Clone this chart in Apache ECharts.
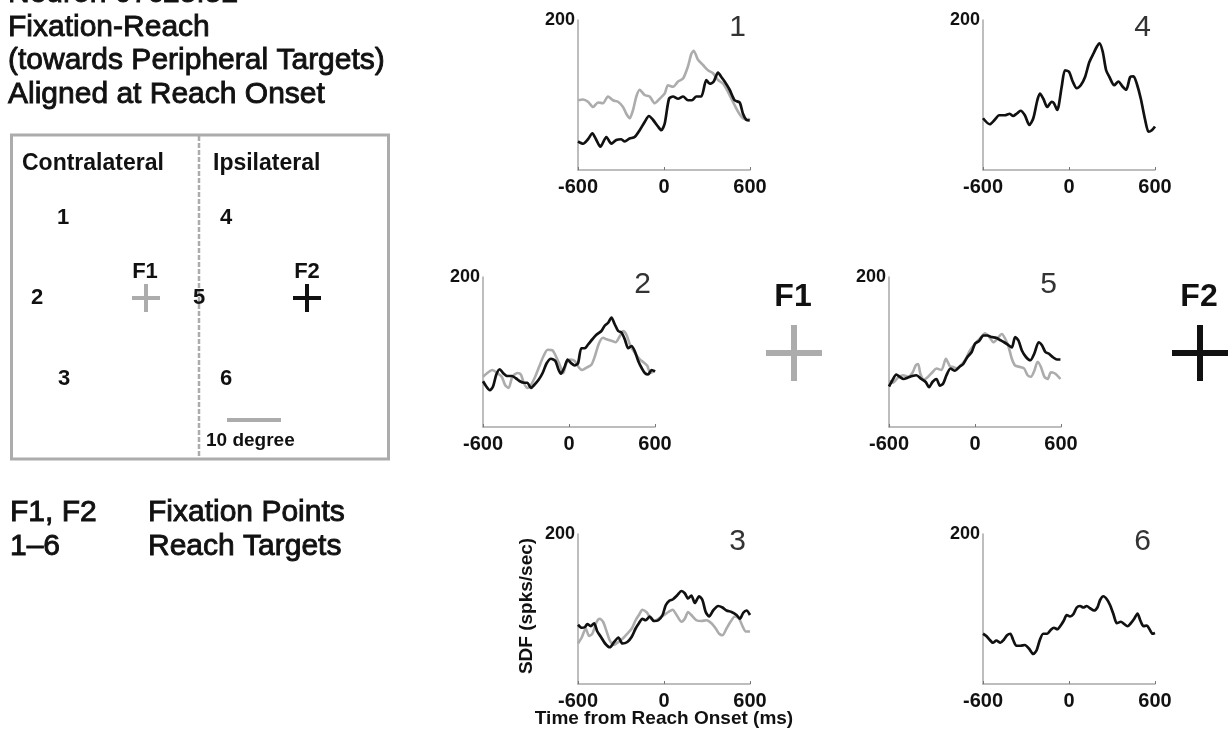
<!DOCTYPE html>
<html>
<head>
<meta charset="utf-8">
<script src="https://cdn.jsdelivr.net/npm/echarts@6/dist/echarts.min.js"></script>
<style>html,body{margin:0;padding:0;background:#fff;}#c{width:1228px;height:733px;}</style>
</head>
<body>
<div id="c"></div>
<script>
// ---- data (time ms, SDF spks/sec) ----
var xTicks = [-600, 0, 600];
var yMaxLabel = 200;

var p1Black = [[-600,38],[-565,35],[-530,41],[-500,49],[-472,40],[-444,31],[-402,44],[-367,35],[-333,40],[-298,41],[-274,38],[-240,42],[-205,44],[-170,53],[-135,64],[-105,72],[-77,67],[-42,58],[-19,53],[5,62],[35,95],[63,98],[98,95],[133,98],[167,93],[195,93],[226,98],[260,98],[295,120],[319,115],[347,118],[377,130],[400,124],[423,118],[458,107],[493,93],[528,90],[551,75],[574,67],[598,66]];
var p1Gray = [[-600,93],[-565,94],[-530,91],[-495,84],[-460,90],[-426,89],[-391,98],[-356,93],[-321,91],[-286,84],[-263,75],[-240,69],[-216,80],[-193,98],[-170,107],[-135,100],[-100,98],[-65,89],[-30,95],[5,102],[28,113],[63,111],[98,118],[133,122],[167,138],[191,155],[207,159],[237,147],[272,140],[307,133],[342,129],[377,120],[412,115],[447,104],[481,91],[516,78],[551,69],[586,67],[598,69]];

var p4Black = [[-600,69],[-553,61],[-518,67],[-487,73],[-448,73],[-413,75],[-390,72],[-366,75],[-338,79],[-308,73],[-277,60],[-249,69],[-221,93],[-203,102],[-179,95],[-152,84],[-121,91],[-105,89],[-82,80],[-51,111],[-28,133],[0,131],[26,118],[54,109],[82,113],[112,124],[142,144],[170,155],[193,164],[212,169],[235,158],[259,133],[282,124],[315,113],[345,118],[375,111],[399,107],[427,124],[450,125],[473,115],[501,95],[531,67],[555,51],[578,53],[600,58]];

var p2Black = [[-600,61],[-577,54],[-553,49],[-530,54],[-507,70],[-483,77],[-460,72],[-430,68],[-399,68],[-371,65],[-343,61],[-313,59],[-290,59],[-266,52],[-243,56],[-212,63],[-184,72],[-156,85],[-126,91],[-95,88],[-72,76],[-56,71],[-33,79],[-9,90],[16,85],[40,82],[63,85],[86,105],[110,105],[133,110],[163,117],[191,123],[226,128],[249,135],[273,139],[296,146],[319,137],[343,128],[366,126],[389,117],[413,105],[436,108],[459,101],[483,88],[506,79],[529,72],[552,70],[576,76],[600,74]];
var p2Gray = [[-600,67],[-570,72],[-535,76],[-500,72],[-469,67],[-446,56],[-422,52],[-395,67],[-360,72],[-336,70],[-313,58],[-290,52],[-266,56],[-236,67],[-207,81],[-179,94],[-149,103],[-114,102],[-86,92],[-63,82],[-40,72],[-19,85],[9,90],[40,88],[70,79],[93,76],[121,79],[156,83],[180,94],[210,112],[238,119],[261,117],[296,115],[326,113],[354,121],[378,128],[401,123],[429,108],[459,99],[494,90],[522,86],[545,82],[569,72],[600,76]];

var p5Black = [[-600,54],[-577,62],[-549,70],[-526,67],[-498,64],[-467,66],[-437,68],[-409,69],[-374,64],[-344,60],[-320,53],[-297,60],[-269,64],[-245,55],[-222,58],[-199,69],[-171,78],[-140,75],[-110,80],[-82,84],[-54,93],[-23,100],[0,111],[30,115],[58,122],[86,122],[117,120],[147,119],[175,116],[203,113],[234,109],[257,106],[280,120],[304,115],[327,102],[357,93],[386,89],[414,98],[444,113],[467,109],[491,100],[514,98],[544,93],[572,90],[596,90]];
var p5Gray = [[-600,62],[-572,59],[-537,66],[-502,69],[-467,67],[-437,72],[-414,82],[-397,84],[-381,71],[-357,63],[-327,67],[-297,73],[-269,78],[-234,76],[-203,91],[-175,81],[-152,80],[-124,78],[-100,82],[-70,89],[-35,102],[0,111],[35,118],[70,125],[100,120],[128,113],[157,118],[187,124],[210,118],[234,107],[257,91],[280,82],[315,80],[343,78],[367,69],[390,67],[414,75],[437,87],[460,80],[484,67],[507,64],[530,73],[561,71],[596,64]];

var p3Black = [[-600,79],[-574,75],[-551,76],[-535,80],[-511,77],[-488,81],[-465,70],[-441,63],[-411,54],[-378,49],[-348,56],[-318,62],[-290,54],[-256,56],[-225,63],[-198,74],[-175,81],[-151,87],[-128,85],[-100,90],[-70,84],[-40,85],[-10,92],[12,105],[37,111],[63,113],[91,118],[122,124],[145,121],[168,114],[191,118],[215,108],[245,117],[268,112],[291,96],[315,90],[343,98],[378,104],[408,102],[436,98],[471,96],[506,92],[530,87],[553,95],[576,98],[600,92]];
var p3Gray = [[-600,54],[-574,62],[-546,74],[-523,64],[-500,67],[-472,82],[-449,87],[-425,83],[-402,71],[-378,58],[-348,52],[-318,56],[-285,61],[-256,67],[-225,74],[-198,85],[-175,92],[-151,99],[-123,96],[-100,90],[-70,84],[-40,87],[0,92],[30,96],[60,99],[88,92],[122,83],[145,87],[168,96],[191,92],[226,85],[261,84],[296,85],[331,81],[361,74],[385,67],[408,65],[436,74],[464,83],[494,90],[524,87],[548,77],[571,70],[600,70]];

var p6Black = [[-600,67],[-577,64],[-554,59],[-531,55],[-507,58],[-479,55],[-455,59],[-432,65],[-409,67],[-390,59],[-367,51],[-339,51],[-308,52],[-278,47],[-250,40],[-226,45],[-203,59],[-180,67],[-152,67],[-128,72],[-105,75],[-82,73],[-58,78],[-35,85],[-16,92],[7,90],[30,93],[54,102],[77,104],[100,102],[124,104],[147,101],[175,98],[198,102],[217,112],[240,117],[264,113],[287,105],[310,93],[334,81],[362,83],[385,80],[408,77],[431,81],[455,87],[478,94],[497,85],[520,77],[543,78],[562,73],[583,67],[600,68]];

// ---- layout ----
var FONT = 'Arial, "Liberation Sans", Helvetica, sans-serif';
var BLACK = '#111111', GRAY = '#acacac', AXIS = '#a8a8a8';
var panels = [
  {name:'1', box:[578, 20, 172, 150], black:p1Black, gray:p1Gray},
  {name:'4', box:[983, 20, 172, 150], black:p4Black, gray:null},
  {name:'2', box:[483, 277, 172, 150], black:p2Black, gray:p2Gray},
  {name:'5', box:[889, 277, 172, 150], black:p5Black, gray:p5Gray},
  {name:'3', box:[578, 534, 172, 150], black:p3Black, gray:p3Gray},
  {name:'6', box:[983, 534, 172, 150], black:p6Black, gray:null}
];

var grids = [], xAxes = [], yAxes = [], series = [], graphics = [];
panels.forEach(function (p, i) {
  grids.push({left:p.box[0], top:p.box[1], width:p.box[2], height:p.box[3], containLabel:false});
  xAxes.push({type:'value', gridIndex:i, min:xTicks[0], max:xTicks[2], interval:600,
    axisLine:{show:true, onZero:false, lineStyle:{color:AXIS, width:1.5}},
    axisTick:{show:true, inside:true, length:3, lineStyle:{color:'#777', width:1}},
    splitLine:{show:false},
    axisLabel:{show:true, margin:7, color:'#111', fontFamily:FONT, fontWeight:'bold', fontSize:20,
      formatter:function(v){return xTicks.indexOf(v) >= 0 ? String(v) : '';}}
  });
  yAxes.push({type:'value', gridIndex:i, min:0, max:yMaxLabel, interval:200,
    axisLine:{show:true, onZero:false, lineStyle:{color:AXIS, width:1.5}},
    axisTick:{show:false}, splitLine:{show:false},
    axisLabel:{show:true, margin:3, color:'#111', fontFamily:FONT, fontWeight:'bold', fontSize:18,
      formatter:function(v){return v === yMaxLabel ? String(v) : '';}}
  });
  if (p.gray) series.push({type:'line', xAxisIndex:i, yAxisIndex:i, data:p.gray, symbol:'none', smooth:0.25,
    lineStyle:{color:GRAY, width:2.6}, silent:true, z:2});
  series.push({type:'line', xAxisIndex:i, yAxisIndex:i, data:p.black, symbol:'none', smooth:0.25,
    lineStyle:{color:BLACK, width:2.7}, silent:true, z:3});
  graphics.push({type:'text', x:p.box[0] + p.box[2] - 4, y:p.box[1] + 8,
    style:{text:p.name, font:'30px ' + FONT, fill:'#333', align:'right', verticalAlign:'middle', textAlign:'right', textVerticalAlign:'middle'}});
});

function txt(s, x, y, size, weight, color, align, extra) {
  var o = {type:'text', x:x, y:y, style:{text:s, font:(weight||'normal') + ' ' + size + 'px ' + FONT,
    fill:color||'#111', align:align||'left', verticalAlign:'middle', textAlign:align||'left', textVerticalAlign:'middle'}};
  if (extra) { for (var k in extra) o.style[k] = extra[k]; }
  return o;
}
function seg(x1, y1, x2, y2, w, c, dash) {
  return {type:'line', shape:{x1:x1, y1:y1, x2:x2, y2:y2}, style:{stroke:c, lineWidth:w, lineDash:dash||null}};
}
function plus(cx, cy, arm, w, c) {
  return [seg(cx - arm/2, cy, cx + arm/2, cy, w, c), seg(cx, cy - arm/2, cx, cy + arm/2, w, c)];
}
var heavy = {stroke:'#111', lineWidth:0.9};

// title block
var titleLines = ['Neuron 07c25f52', 'Fixation-Reach', '(towards Peripheral Targets)', 'Aligned at Reach Onset'];
titleLines.forEach(function (s, k) { graphics.push(txt(s, 8, -6 + k * 33.5, 30, 'normal', '#111', 'left', heavy)); });

// target layout box
graphics.push({type:'rect', shape:{x:11.5, y:135, width:377, height:324}, style:{fill:'none', stroke:GRAY, lineWidth:3}});
graphics.push(seg(199, 136, 199, 458, 2.5, GRAY, [5, 2]));
graphics.push(txt('Contralateral', 22, 164, 23, 'bold'));
graphics.push(txt('Ipsilateral', 213, 164, 23, 'bold'));
graphics.push(txt('1', 63, 218, 22, 'bold', '#111', 'center'));
graphics.push(txt('4', 226, 218, 22, 'bold', '#111', 'center'));
graphics.push(txt('F1', 145, 272, 22, 'bold', '#111', 'center'));
graphics.push(txt('F2', 307, 272, 22, 'bold', '#111', 'center'));
graphics.push(txt('2', 37, 298, 22, 'bold', '#111', 'center'));
graphics.push(txt('5', 199, 298, 22, 'bold', '#111', 'center'));
graphics.push(txt('3', 64, 379, 22, 'bold', '#111', 'center'));
graphics.push(txt('6', 226, 379, 22, 'bold', '#111', 'center'));
graphics = graphics.concat(plus(146, 298, 28, 4, GRAY));
graphics = graphics.concat(plus(307, 298, 28, 4, BLACK));
graphics.push(seg(227, 420, 281, 420, 4, GRAY));
graphics.push(txt('10 degree', 206, 441, 19, 'bold'));

// legend text
graphics.push(txt('F1, F2', 10, 513, 30, 'normal', '#111', 'left', heavy));
graphics.push(txt('Fixation Points', 148, 513, 30, 'normal', '#111', 'left', heavy));
graphics.push(txt('1\u20136', 10, 547, 30, 'normal', '#111', 'left', heavy));
graphics.push(txt('Reach Targets', 148, 547, 30, 'normal', '#111', 'left', heavy));

// fixation markers between panels
graphics.push(txt('F1', 793, 297, 32, 'bold', '#111', 'center'));
graphics = graphics.concat(plus(794, 353, 56, 6, GRAY));
graphics.push(txt('F2', 1199, 297, 32, 'bold', '#111', 'center'));
graphics = graphics.concat(plus(1200, 353, 56, 6, BLACK));

// axis titles
graphics.push({type:'text', x:527, y:606, rotation:Math.PI/2,
  style:{text:'SDF (spks/sec)', x:0, y:0, font:'bold 19px ' + FONT, fill:'#111', align:'center', verticalAlign:'middle', textAlign:'center', textVerticalAlign:'middle'}});
graphics.push(txt('Time from Reach Onset (ms)', 664, 719, 19, 'bold', '#111', 'center'));

var chart = echarts.init(document.getElementById('c'), null, {renderer:'canvas'});
chart.setOption({
  animation:false,
  backgroundColor:'#ffffff',
  grid:grids, xAxis:xAxes, yAxis:yAxes, series:series,
  graphic:{elements:graphics}
});
</script>
</body>
</html>
